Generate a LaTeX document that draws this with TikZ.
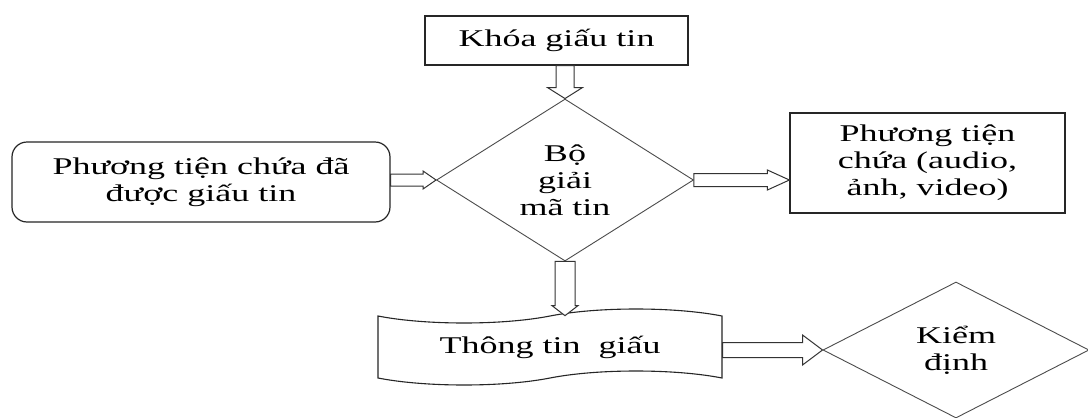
\documentclass[tikz,border=0pt]{standalone}
\usepackage{fontspec}
\setmainfont{Liberation Serif}[FakeStretch=1.5]
\usetikzlibrary{shapes.geometric,shapes.symbols,calc}
\tikzset{
  box/.style={draw=black!85, line width=1.2pt, rectangle, align=center, inner sep=0pt},
  rbox/.style={box, rounded corners=15pt},
  dia/.style={draw=black!70, line width=0.9pt, diamond, align=center, inner sep=0pt},
  tp/.style={draw=black!85, line width=1.1pt, tape, align=center, inner sep=0pt, tape bend height=14pt},
  barrow/.style={draw=black!80, line width=1pt, fill=white, line join=miter},
  txt/.style={font=\fontsize{24pt}{27pt}\selectfont}
}
\newcommand\blockH[5]{\draw[barrow] let \p1=(#1), \p2=(#2) in (\x1,\y1+#3) -- (\x2-#5,\y1+#3) -- (\x2-#5,\y1+#4) -- (\x2,\y1) -- (\x2-#5,\y1-#4) -- (\x2-#5,\y1-#3) -- (\x1,\y1-#3) -- cycle;}
\newcommand\blockV[5]{\draw[barrow] let \p1=(#1), \p2=(#2) in (\x1+#3,\y1) -- (\x1+#3,\y2+#5) -- (\x1+#4,\y2+#5) -- (\x1,\y2) -- (\x1-#4,\y2+#5) -- (\x1-#3,\y2+#5) -- (\x1-#3,\y1) -- cycle;}
\begin{document}
\begin{tikzpicture}[x=1pt,y=-1pt]
\useasboundingbox[fill=white] (0,0) rectangle (1088,418);
\node[box, txt, minimum width=263pt, minimum height=49pt] (key) at (556.5,40.5) {Khóa giấu tin};
\node[rbox, txt, minimum width=378pt, minimum height=80pt] (src) at (201,182) {Phương tiện chứa đã\\được giấu tin};
\node[dia, txt, minimum width=257pt, minimum height=162pt] (dec) at (565,180) {Bộ\\giải\\mã tin};
\node[box, txt, minimum width=275pt, minimum height=100pt] (med) at (927.5,163) {Phương tiện\\chứa (audio,\\ảnh, video)};
\node[tp, txt, minimum width=344pt, minimum height=76pt] (msg) at (550,347) {Thông tin\ \ giấu};
\node[dia, txt, minimum width=266pt, minimum height=136pt] (chk) at (956,350) {Kiểm\\định};
\coordinate (keyout) at (dec.north |- key.south);
\blockV{keyout}{dec.north}{9pt}{17.5pt}{11pt}
\coordinate (srcout) at (src.east |- dec.west);
\blockH{srcout}{dec.west}{6pt}{9pt}{13pt}
\coordinate (medin) at (med.west |- dec.east);
\blockH{dec.east}{medin}{6.5pt}{10pt}{22pt}
\coordinate (msgin) at (dec.south |- msg.north);
\blockV{dec.south}{msgin}{10pt}{13pt}{10pt}
\coordinate (chkin) at (chk.west);
\coordinate (msgout) at (msg.east |- chk.west);
\blockH{msgout}{chkin}{7.5pt}{15pt}{20pt}
\end{tikzpicture}
\end{document}
